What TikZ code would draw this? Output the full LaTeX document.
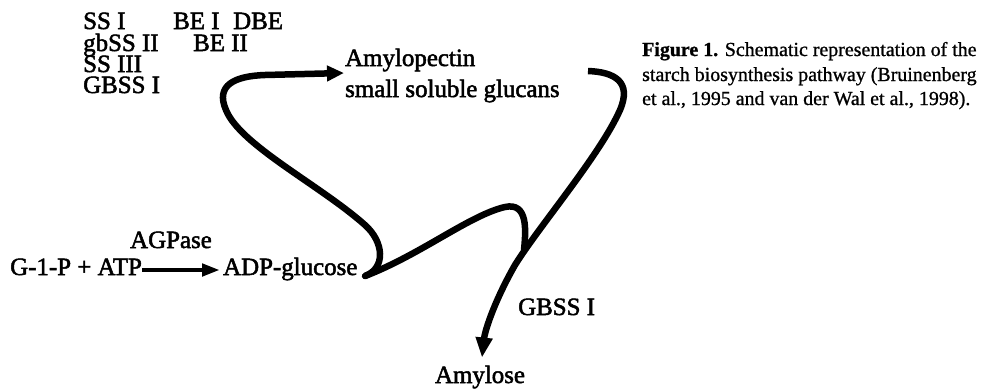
\documentclass[tikz,border=0pt]{standalone}
\usepackage{fontspec}
\setmainfont{Liberation Serif}
\newfontfamily\scanfont{Liberation Serif}[FakeBold=2]
\newfontfamily\scancapfont{Liberation Serif}[FakeBold=1]
\usetikzlibrary{arrows.meta}
\begin{document}
\begin{tikzpicture}[x=1bp, y=-1bp, >={Triangle[length=17bp,width=15bp]},
    txt/.style={inner sep=0pt, anchor=base west, font=\scanfont\fontsize{25}{20}\selectfont},
    capline/.style={inner sep=0pt, anchor=base west, font=\scancapfont\fontsize{20}{24}\selectfont},
    flux/.style={line width=6.5bp}]
    \useasboundingbox (0,0) rectangle (990,389);

    % enzymes
    \node[txt] (SSI) at (83,29) {SS I};
    \node[txt] (BEI) at (173,29) {BE I};
    \node[txt] (DBE) at (233,29) {DBE};
    \node[txt] (gbSSII) at (83,51) {gbSS II};
    \node[txt] (BEII) at (193,51) {BE II};
    \node[txt] (SSIII) at (83,72) {SS III};
    \node[txt] (GBSSI) at (83,93) {GBSS I};

    % metabolites
    \node[txt] (G1P) at (10,275) {G-1-P + ATP};
    \node[txt] (ADP) at (223,275) {ADP-glucose};
    \node[txt] (AP) at (345,66) {Amylopectin};
    \node[txt] (SG) at (345,97) {small soluble glucans};
    \node[txt, anchor=base] (AM) at (480,383) {Amylose};
    \node[txt, anchor=base] (AGP) at (171,248) {AGPase};
    \node[txt] (GB) at (518,315) {GBSS I};

    % caption
    \node[capline] (C1) at (642,56) {\bfseries Figure 1.\mdseries{} Schematic representation of the};
    \node[capline] (C2) at (642,81) {starch biosynthesis pathway (Bruinenberg};
    \node[capline] (C3) at (642,105) {et al., 1995 and van der Wal et al., 1998).};

    \coordinate (J) at (365,276);
    \coordinate (M) at (524,250);
    \coordinate (S) at (588,71);

    \draw[line width=4.5bp, -{Triangle[length=18bp,width=12bp]}]
        ([yshift=5bp]G1P.base east) -- ([xshift=-3bp,yshift=5bp]ADP.base west);

    \draw[flux, ->] (J) .. controls (386,268) and (384,242) .. (365,225)
        .. controls (320,185) and (240,145) .. (226,110)
        .. controls (215,85) and (235,76) .. (265,75)
        -- ([xshift=-1bp,yshift=-7bp]AP.base west);
    \draw[flux, line cap=round] (J) .. controls (420,255) and (470,215) .. (505,207)
        .. controls (528,202) and (526,230) .. (M);
    \draw[flux, -{Triangle[length=20bp,width=16bp]}] (S) .. controls (615,72) and (632,82) .. (620,110)
        .. controls (600,155) and (540,225) .. (515,265)
        .. controls (495,300) and (485,330) .. ([xshift=2bp,yshift=8bp]AM.north);
\end{tikzpicture}
\end{document}
